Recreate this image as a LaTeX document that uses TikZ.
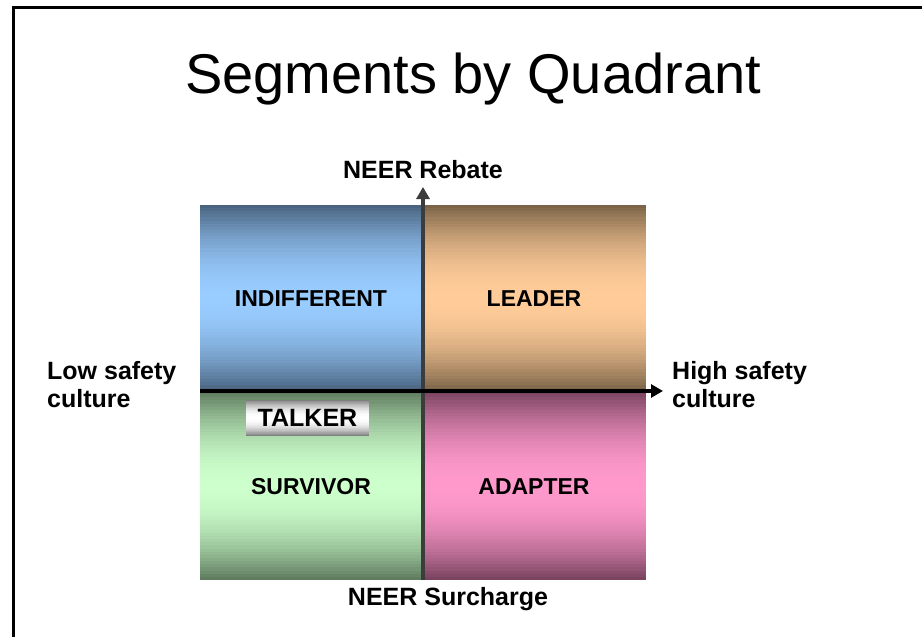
\documentclass[tikz,border=0pt]{standalone}
\usepackage{fontspec}
\setmainfont{Liberation Sans}
\usetikzlibrary{arrows.meta}

\definecolor{blueDark}{HTML}{4A6480}
\definecolor{blueLight}{HTML}{99CCFF}
\definecolor{tanDark}{HTML}{7C6448}
\definecolor{tanLight}{HTML}{FFCC99}
\definecolor{greenDark}{HTML}{5F7C5F}
\definecolor{greenLight}{HTML}{CCFFCC}
\definecolor{pinkDark}{HTML}{7A4460}
\definecolor{pinkLight}{HTML}{FF99CC}
\definecolor{axisGray}{HTML}{3C3C3C}

% vertical gradient: dark at top and bottom, light in the middle
\newcommand{\vgrad}[6]{%
  \foreach \k in {0,...,59}{
    \pgfmathsetmacro{\t}{abs(\k-29.5)/29.5}
    \pgfmathsetmacro{\pct}{100*(1-\t*\t)}
    \fill[#6!\pct!#5] (#1, {#2+(#4-#2)*\k/60}) rectangle (#3, {#2+(#4-#2)*(\k+1)/60+0.4});
  }}

\begin{document}
\begin{tikzpicture}[x=1pt, y=-1pt,
  every node/.style={font=\bfseries\fontsize{25}{28}\selectfont, inner sep=0pt},
  quad/.style={font=\bfseries\fontsize{23}{28}\selectfont},
  axis/.style={line width=3.5pt, -{Triangle[width=13pt,length=12pt]}}]

  \useasboundingbox (0,0) rectangle (922,637);

  % slide frame
  \draw[line width=3pt] (13,637) -- (13,7.5) -- (922,7.5);

  \node[font=\fontsize{56}{60}\selectfont] (title) at (473, 79) {Segments by Quadrant};

  % quadrants
  \vgrad{200}{205}{423}{391}{blueDark}{blueLight}
  \vgrad{423}{205}{646}{391}{tanDark}{tanLight}
  \vgrad{200}{391}{423}{580}{greenDark}{greenLight}
  \vgrad{423}{391}{646}{580}{pinkDark}{pinkLight}
  \vgrad{246}{400}{369}{436}{gray}{white}

  \node[quad] (indiff) at (311, 299) {INDIFFERENT};
  \node[quad] (leader) at (534, 299) {LEADER};
  \node[quad] (survivor) at (311, 487) {SURVIVOR};
  \node[quad] (adapter) at (534, 487) {ADAPTER};
  \node (talker) at (307.5, 418) {TALKER};

  % axes
  \coordinate (yb) at (423, 580);
  \coordinate (yt) at (423, 187);
  \coordinate (xl) at (200, 391);
  \coordinate (xr) at (663, 391);
  \draw[axis, draw=axisGray, fill=axisGray] (yb) -- (yt);
  \draw[axis] (xl) -- (xr);

  \node (rebate) at (423, 170) {NEER Rebate};
  \node (surcharge) at (448, 599) {NEER Surcharge};
  \node[anchor=west, align=left] (low) at (47, 385) {Low safety\\culture};
  \node[anchor=west, align=left] (high) at (672, 385) {High safety\\culture};

\end{tikzpicture}
\end{document}
